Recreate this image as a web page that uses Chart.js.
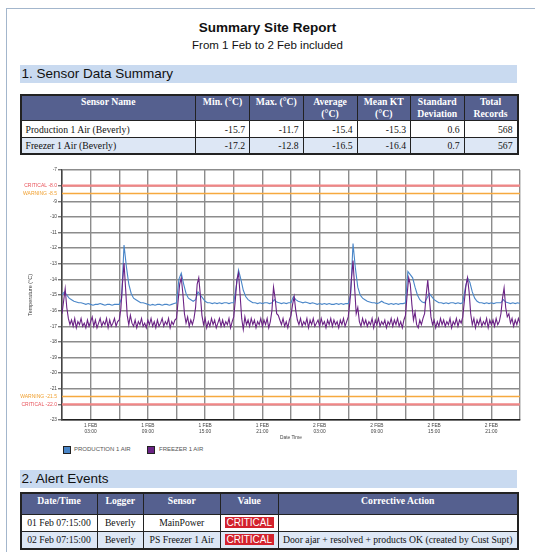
<!DOCTYPE html>
<html>
<head>
<meta charset="utf-8">
<script src="https://cdn.jsdelivr.net/npm/chart.js@4/dist/chart.umd.min.js"></script>
<style>
  body { margin: 0; width: 535px; height: 552px; overflow: hidden; background: #fff; position: relative;
         font-family: "Liberation Sans", Arial, sans-serif; }
  .frame { position: absolute; left: 6px; top: 7.5px; width: 600px; height: 600px;
           border-left: 1.5px solid #a3b6cc; border-top: 1.5px solid #a3b6cc; }
  .title { position: absolute; left: 0; width: 535px; text-align: center; color: #111; }
  .band { position: absolute; left: 19.5px; width: 497px; height: 18px; background: #c9daf0;
          font-size: 13.5px; line-height: 18px; padding-left: 2px; box-sizing: border-box; color: #111; }
  table.grid { position: absolute; left: 19.5px; border-collapse: collapse; table-layout: fixed;
               font-family: "Liberation Serif", "Times New Roman", serif; font-size: 9.7px; color: #111;
               border: 2px solid #222; }
  table.grid td, table.grid th { border: 1.3px solid #222; padding: 0 4px; overflow: hidden; white-space: nowrap; }
  table.grid th { background: #55608f; color: #fff; font-weight: bold; vertical-align: top; line-height: 12px; padding-top: 0.5px; }
  table.grid td.n { text-align: right; }
  table.grid td.c { text-align: center; }
  table.grid tr.alt td { background: #dde7f5; }
  .crit { display: inline-block; background: #d3222d; color: #fff; font-family: "Liberation Sans", Arial, sans-serif;
          font-size: 10px; line-height: 11px; padding: 0 2px; }
  #chartBox { position: absolute; left: 8px; top: 160px; }
  .legend { position: absolute; top: 445px; font-size: 6px; color: #555; }
  .legend span.box { position: absolute; top: 0.5px; width: 6px; height: 6px; border: 1px solid #222; }
  .legend span.txt { position: absolute; top: 0; line-height: 8px; white-space: nowrap; }
</style>
</head>
<body>
<div class="frame"></div>
<div class="title" style="top:20px;font-size:13.5px;font-weight:bold;">Summary Site Report</div>
<div class="title" style="top:38.5px;font-size:11.5px;">From 1 Feb to 2 Feb included</div>

<div class="band" style="top:65px;">1. Sensor Data Summary</div>
<table class="grid" style="top:93.5px;width:497px;">
  <colgroup>
    <col style="width:175px"><col style="width:54px"><col style="width:53.5px"><col style="width:54px">
    <col style="width:53.5px"><col style="width:53.5px"><col style="width:53.5px">
  </colgroup>
  <tr style="height:24px;"><th>Sensor Name</th><th>Min. (°C)</th><th>Max. (°C)</th><th>Average<br>(°C)</th><th>Mean KT<br>(°C)</th><th>Standard<br>Deviation</th><th>Total<br>Records</th></tr>
  <tr style="height:17px;"><td>Production 1 Air (Beverly)</td><td class="n">-15.7</td><td class="n">-11.7</td><td class="n">-15.4</td><td class="n">-15.3</td><td class="n">0.6</td><td class="n">568</td></tr>
  <tr class="alt" style="height:16px;"><td>Freezer 1 Air (Beverly)</td><td class="n">-17.2</td><td class="n">-12.8</td><td class="n">-16.5</td><td class="n">-16.4</td><td class="n">0.7</td><td class="n">567</td></tr>
</table>

<div id="chartBox"><canvas id="chart" width="522" height="285"></canvas></div>
<div class="legend">
  <span class="box" style="left:62.5px;background:#4a86c8;"></span><span class="txt" style="left:74px;">PRODUCTION 1 AIR</span>
  <span class="box" style="left:147px;background:#6b2385;"></span><span class="txt" style="left:159px;">FREEZER 1 AIR</span>
</div>

<div class="band" style="top:470px;">2. Alert Events</div>
<table class="grid" style="top:492px;width:497px;">
  <colgroup>
    <col style="width:76.5px"><col style="width:46.5px"><col style="width:76.5px"><col style="width:58.5px"><col style="width:239px">
  </colgroup>
  <tr style="height:21px;"><th>Date/Time</th><th>Logger</th><th>Sensor</th><th>Value</th><th>Corrective Action</th></tr>
  <tr style="height:17px;"><td class="c">01 Feb 07:15:00</td><td class="c">Beverly</td><td class="c">MainPower</td><td class="c"><span class="crit">CRITICAL</span></td><td></td></tr>
  <tr class="alt" style="height:17.5px;"><td class="c">02 Feb 07:15:00</td><td class="c">Beverly</td><td class="c">PS Freezer 1 Air</td><td class="c"><span class="crit">CRITICAL</span></td><td>Door ajar + resolved + products OK (created by Cust Supt)</td></tr>
</table>

<script>
// hours since 1 Feb 00:00
const startHour = 0;
const endHour = 48;

// Production 1 Air, one reading every 15 minutes
const prodStepHours = 0.25;
const productionTemps = [
  -15.0, -14.8, -15.0, -15.2,
  -15.3, -15.4, -15.45, -15.5,
  -15.5, -15.55, -15.6, -15.55,
  -15.6, -15.65, -15.6, -15.6,
  -15.55, -15.6, -15.65, -15.6,
  -15.6, -15.65, -15.6, -15.6,
  -15.6, -15.2, -11.8, -13.2,
  -14.3, -14.9, -15.2, -15.3,
  -15.4, -15.5, -15.5, -15.55,
  -15.6, -15.65, -15.6, -15.65,
  -15.6, -15.6, -15.65, -15.6,
  -15.6, -15.65, -15.6, -15.55,
  -15.5, -14.0, -13.6, -14.3,
  -14.9, -15.2, -15.3, -15.4,
  -15.3, -14.8, -15.0, -15.2,
  -15.4, -15.5, -15.5, -15.55,
  -15.5, -15.55, -15.5, -15.55,
  -15.5, -15.5, -15.55, -15.5,
  -15.5, -14.5, -13.4, -14.0,
  -14.7, -15.1, -15.3, -15.4,
  -15.5, -15.5, -15.55, -15.5,
  -15.55, -15.5, -15.5, -15.55,
  -15.5, -15.3, -15.45, -15.5,
  -15.55, -15.5, -15.55, -15.5,
  -15.5, -15.1, -15.3, -15.4,
  -15.45, -15.5, -15.45, -15.5,
  -15.55, -15.5, -15.55, -15.6,
  -15.55, -15.6, -15.55, -15.6,
  -15.55, -15.6, -15.6, -15.55,
  -15.6, -15.55, -15.6, -15.55,
  -15.55, -15.0, -11.7, -13.3,
  -14.5, -15.0, -15.2, -15.3,
  -15.4, -15.45, -15.5, -15.5,
  -15.55, -15.5, -15.4, -15.5,
  -15.55, -15.6, -15.55, -15.6,
  -15.55, -15.6, -15.55, -15.55,
  -15.5, -13.5, -13.7, -13.9,
  -14.5, -15.0, -15.3, -15.45,
  -15.5, -15.2, -14.9, -15.1,
  -15.3, -15.4, -15.5, -15.5,
  -15.55, -15.5, -15.55, -15.5,
  -15.5, -15.55, -15.5, -15.55,
  -15.5, -14.6, -13.9, -14.2,
  -14.8, -15.2, -15.4, -15.5,
  -15.5, -15.55, -15.5, -15.55,
  -15.5, -15.55, -15.5, -15.5,
  -15.5, -15.3, -15.45, -15.5,
  -15.55, -15.5, -15.55, -15.5,
  -15.55
];

// Freezer 1 Air, one reading every 10 minutes
const freezerStepHours = 1 / 6;
const freezerTemps = [
  -16.2, -15.4, -14.6, -15.8, -16.5, -16.9,
  -16.6, -17.0, -16.5, -17.1, -16.7, -16.9,
  -16.5, -17.0, -16.8, -17.1, -16.6, -17.0,
  -16.7, -16.4, -17.0, -16.6, -17.1, -16.8,
  -16.5, -17.0, -16.7, -16.9, -16.5, -17.1,
  -16.6, -17.0, -16.8, -16.5, -17.0, -16.7,
  -16.6, -15.9, -14.3, -12.95, -14.6, -16.3,
  -16.9, -16.3, -16.8, -17.0, -16.6, -17.1,
  -16.7, -16.9, -16.5, -17.0, -16.8, -17.1,
  -16.6, -16.9, -16.5, -17.0, -16.7, -17.1,
  -16.6, -17.0, -16.8, -16.5, -17.0, -16.7,
  -16.9, -16.5, -17.1, -16.7, -16.9, -16.6,
  -16.5, -15.4, -14.3, -13.9, -14.9, -16.2,
  -16.8, -16.4, -17.0, -16.6, -16.9, -16.5,
  -15.8, -14.3, -13.9, -15.0, -16.3, -16.9,
  -16.5, -17.1, -16.7, -17.0, -16.5, -16.9,
  -16.6, -17.1, -16.8, -16.5, -17.0, -16.6,
  -17.0, -16.7, -16.9, -16.5, -17.1, -16.7,
  -16.4, -15.3, -14.0, -13.6, -15.0, -16.5,
  -17.2, -16.4, -16.9, -16.6, -17.0, -16.5,
  -16.9, -16.6, -17.1, -16.7, -16.9, -16.5,
  -17.0, -16.6, -16.9, -16.5, -17.1, -16.7,
  -16.0, -14.5, -15.2, -16.2, -16.3, -16.6,
  -16.9, -16.5, -17.0, -16.7, -17.1, -16.6,
  -16.3, -15.6, -15.1, -16.0, -16.6, -16.9,
  -16.5, -17.0, -16.7, -16.9, -16.5, -17.1,
  -16.6, -16.9, -16.5, -17.0, -16.8, -16.6,
  -17.0, -16.5, -16.9, -16.7, -17.1, -16.6,
  -16.9, -16.5, -17.0, -16.6, -16.9, -16.7,
  -17.1, -16.6, -16.9, -16.5, -17.0, -16.7,
  -16.4, -15.5, -14.0, -12.8, -14.5, -16.2,
  -15.8, -16.7, -17.0, -16.5, -16.9, -16.6,
  -17.0, -16.7, -16.9, -16.5, -17.1, -16.6,
  -16.9, -16.5, -17.0, -16.7, -16.9, -16.6,
  -17.1, -16.7, -16.9, -16.5, -17.0, -16.6,
  -16.9, -16.5, -17.0, -16.7, -17.1, -16.6,
  -16.3, -15.0, -13.9, -14.3, -15.6, -16.6,
  -16.1, -16.9, -17.1, -16.6, -16.9, -16.5,
  -16.2, -15.0, -14.05, -15.2, -16.4, -16.9,
  -16.6, -17.1, -16.7, -17.0, -16.5, -16.9,
  -16.6, -17.0, -16.7, -16.9, -16.5, -17.1,
  -16.7, -16.9, -16.5, -17.0, -16.6, -16.8,
  -16.4, -15.4, -14.4, -13.9, -14.8, -16.2,
  -16.9, -16.5, -17.1, -16.6, -16.9, -16.5,
  -17.0, -16.7, -16.9, -16.5, -17.1, -16.6,
  -16.9, -16.6, -17.0, -16.5, -16.9, -16.7,
  -16.2, -15.2, -14.55, -15.8, -16.4, -16.2,
  -16.8, -16.5, -17.0, -16.6, -16.9, -16.5,
  -16.8
];

// alarm thresholds
const thresholdValues = [-8, -8.5, -21.5, -22];
const thresholdNames = ['CRITICAL', 'WARNING', 'WARNING', 'CRITICAL'];
const thresholdLineColors = ['#f08686', '#f6a93f', '#f6a93f', '#f08686'];
const thresholdTextColors = ['#e8525a', '#f0a030', '#f0a030', '#e8525a'];

// labelled x ticks
const tickHours = [3, 9, 15, 21, 27, 33, 39, 45];
const tickDays = ['1 FEB', '1 FEB', '1 FEB', '1 FEB', '2 FEB', '2 FEB', '2 FEB', '2 FEB'];
const tickTimes = ['03:00', '09:00', '15:00', '21:00', '03:00', '09:00', '15:00', '21:00'];

const tickFont = { family: '"Liberation Sans", Arial, sans-serif', size: 4.8 };

const thresholdLabels = {
  id: 'thresholdLabels',
  afterDraw(chart) {
    const ctx = chart.ctx;
    const y = chart.scales.y;
    ctx.save();
    ctx.font = '5px "Liberation Sans", Arial, sans-serif';
    ctx.textAlign = 'right';
    ctx.textBaseline = 'middle';
    thresholdValues.forEach((v, i) => {
      ctx.fillStyle = thresholdTextColors[i];
      ctx.fillText(thresholdNames[i] + ' ' + v.toFixed(1), chart.chartArea.left - 5, y.getPixelForValue(v));
    });
    ctx.restore();
  }
};

const thresholdSets = thresholdValues.map((v, i) => ({
  label: thresholdNames[i],
  data: [{ x: startHour, y: v }, { x: endHour, y: v }],
  borderColor: thresholdLineColors[i],
  borderWidth: thresholdNames[i] === 'CRITICAL' ? 2.2 : 1.6,
  pointRadius: 0,
  order: 3
}));

new Chart(document.getElementById('chart'), {
  type: 'line',
  data: {
    datasets: [
      {
        label: 'PRODUCTION 1 AIR',
        data: productionTemps.map((t, i) => ({ x: i * prodStepHours, y: t })),
        borderColor: '#4a86c8',
        backgroundColor: '#4a86c8',
        borderWidth: 1.1,
        pointRadius: 0,
        tension: 0,
        order: 2
      },
      {
        label: 'FREEZER 1 AIR',
        data: freezerTemps.map((t, i) => ({ x: i * freezerStepHours, y: t })),
        borderColor: '#6b2385',
        backgroundColor: '#6b2385',
        borderWidth: 1.1,
        pointRadius: 0,
        tension: 0,
        order: 1
      },
      ...thresholdSets
    ]
  },
  options: {
    responsive: false,
    animation: false,
    layout: { padding: { top: 10, right: 10, left: 0, bottom: 0 } },
    plugins: { legend: { display: false }, tooltip: { enabled: false } },
    scales: {
      x: {
        type: 'linear',
        min: startHour,
        max: endHour,
        afterFit(s) { s.height = 25; },
        ticks: {
          stepSize: 3,
          autoSkip: false,
          maxRotation: 0,
          padding: 3,
          color: '#444',
          font: tickFont,
          callback(v) {
            const k = tickHours.indexOf(v);
            return k < 0 ? '' : [tickDays[k], tickTimes[k]];
          }
        },
        grid: { color: '#8c8c8c', lineWidth: 1.4, drawTicks: false },
        border: { color: '#222', width: 1.5 },
        title: { display: true, text: 'Date Time', color: '#444',
                 font: { family: '"Liberation Sans", Arial, sans-serif', size: 4.8 }, padding: { top: 0, bottom: 4 } }
      },
      y: {
        min: -23,
        max: -7,
        afterFit(s) { s.width = 54; },
        ticks: {
          stepSize: 1,
          padding: 1,
          color: '#444',
          font: tickFont,
          callback(v) { return thresholdValues.includes(v) ? '' : String(v); }
        },
        grid: { color: '#8c8c8c', lineWidth: 1.4, tickLength: 4, tickColor: '#777' },
        border: { color: '#444', width: 1.5 },
        title: { display: true, text: 'Temperature (°C)', color: '#444',
                 font: { family: '"Liberation Sans", Arial, sans-serif', size: 5.5 }, padding: { top: 19, bottom: 0 } }
      }
    }
  },
  plugins: [thresholdLabels]
});
</script>
</body>
</html>
